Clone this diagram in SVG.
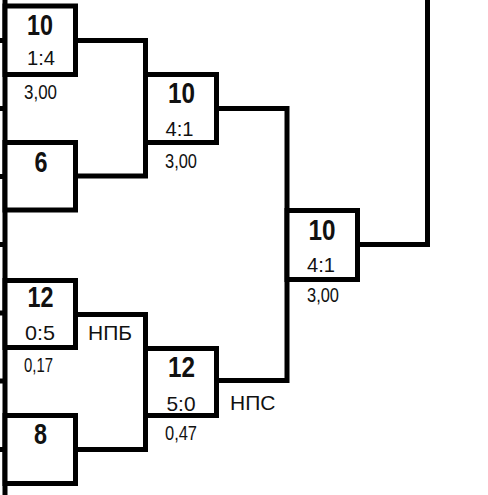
<svg xmlns="http://www.w3.org/2000/svg" width="488" height="495" viewBox="0 0 488 495">
<style>
.box{fill:#fff;stroke:#000;stroke-width:5}
.ln{fill:none;stroke:#000;stroke-width:5;stroke-linejoin:miter}
text{font-family:"Liberation Sans",Arial,sans-serif;fill:#111;text-anchor:middle}
.n{font-size:29px;font-weight:bold}
.s{font-size:21px}
.c{font-size:19.5px}
.l{font-size:21px;text-anchor:start}
</style>
<rect width="488" height="495" fill="#fff"/>
<g id="connectors">
<path class="ln" d="M5,0 V495"/>
<path class="ln" d="M0,40.5 H5 M0,108.5 H5 M0,176.5 H5 M0,244.5 H5 M0,313 H5 M0,381 H5 M0,449.5 H5"/>
<path class="ln" d="M75.5,40.5 H145.5 V176 H75.5"/>
<path class="ln" d="M216.5,108.5 H287 V380.5 H216.5"/>
<path class="ln" d="M75.5,314.5 H145.5 V449.5 H75.5"/>
<path class="ln" d="M357.5,244.5 H427.5 V0"/>
</g>
<g id="n1">
<rect class="box" x="5" y="6" width="70.5" height="68.5"/>
<text class="n" x="40" y="35" textLength="26" lengthAdjust="spacingAndGlyphs">10</text>
<text class="s" x="41" y="65" textLength="28" lengthAdjust="spacingAndGlyphs">1:4</text>
<text class="c" x="40.5" y="99" textLength="33" lengthAdjust="spacingAndGlyphs">3,00</text>
</g>
<g id="n2">
<rect class="box" x="5" y="142.5" width="70.5" height="67.5"/>
<text class="n" x="41" y="172" textLength="13" lengthAdjust="spacingAndGlyphs">6</text>
</g>
<g id="n3">
<rect class="box" x="145.5" y="74.5" width="71" height="68"/>
<text class="n" x="181.5" y="103" textLength="27" lengthAdjust="spacingAndGlyphs">10</text>
<text class="s" x="179.5" y="136" textLength="28" lengthAdjust="spacingAndGlyphs">4:1</text>
<text class="c" x="181" y="168" textLength="32" lengthAdjust="spacingAndGlyphs">3,00</text>
</g>
<g id="n4">
<rect class="box" x="287" y="210.5" width="70.5" height="69"/>
<text class="n" x="322" y="240" textLength="27" lengthAdjust="spacingAndGlyphs">10</text>
<text class="s" x="321" y="272" textLength="28" lengthAdjust="spacingAndGlyphs">4:1</text>
<text class="c" x="323" y="302" textLength="32" lengthAdjust="spacingAndGlyphs">3,00</text>
</g>
<g id="n5">
<rect class="box" x="5" y="280.5" width="70.5" height="67"/>
<text class="n" x="40.5" y="307" textLength="26" lengthAdjust="spacingAndGlyphs">12</text>
<text class="s" x="40" y="340" textLength="30" lengthAdjust="spacingAndGlyphs">0:5</text>
<text class="c" x="38.5" y="372" textLength="29" lengthAdjust="spacingAndGlyphs">0,17</text>
<text class="l" x="88" y="340">НПБ</text>
</g>
<g id="n6">
<rect class="box" x="5" y="415.5" width="70.5" height="68"/>
<text class="n" x="40.5" y="444" textLength="13" lengthAdjust="spacingAndGlyphs">8</text>
</g>
<g id="n7">
<rect class="box" x="145.5" y="348.5" width="71" height="67"/>
<text class="n" x="181.5" y="377" textLength="27" lengthAdjust="spacingAndGlyphs">12</text>
<text class="s" x="181" y="411" textLength="29" lengthAdjust="spacingAndGlyphs">5:0</text>
<text class="c" x="181" y="440" textLength="32" lengthAdjust="spacingAndGlyphs">0,47</text>
<text class="l" x="230" y="410">НПС</text>
</g>
</svg>
